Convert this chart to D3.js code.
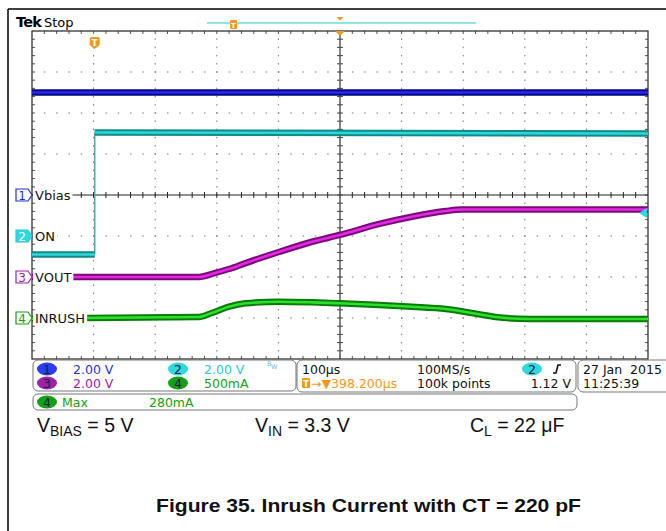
<!DOCTYPE html>
<html>
<head>
<meta charset="utf-8">
<script src="https://cdn.jsdelivr.net/npm/d3@7"></script>
<style>
body { margin: 0; background: #fff; }
svg { display: block; }
</style>
</head>
<body>
<div id="scope"></div>
<script>
// Trace data: [time in us from trigger, value in channel units]
var vbiasPts = [[-101.8, 5.0], [898.2, 5.0]];
var onPts = [[-101.8, -0.9], [0, -0.9], [0, 5.05], [898.2, 5.0]];
var voutPts = [[-101.8, 0], [169, 0], [196, 0.2], [218, 0.39], [245, 0.68], [299, 1.22], [353, 1.72],
    [398, 2.05], [462, 2.59], [515, 2.94], [570, 3.22], [596, 3.29], [898.2, 3.29]];
var inrushPts = [[-101.8, -5], [169, 12], [190, 61], [218, 138], [245, 179], [299, 199], [353, 191],
    [398, 179], [462, 159], [515, 138], [570, 110], [624, 45], [651, 12], [705, -12], [898.2, -12]];

// Channel settings
var chNames = ["Vbias", "ON", "VOUT", "INRUSH"];
var chPerDiv = [2, 2, 2, 500];          // units per division
var chOffset = [4, 3, 2, 1];            // ground position, divisions from bottom
var chScaleText = ["2.00 V", "2.00 V", "2.00 V", "500mA"];
var chDark = ["#06068a", "#0e8a8a", "#7a0a7a", "#0a7a0a"];
var chBright = ["#2a2ae0", "#2fd6d6", "#e22ae2", "#2ae02a"];
var chText = ["#1f2fe8", "#2cc9d6", "#a020a8", "#14a014"];
var chBadge = ["#2a3cff", "#2fd9e0", "#a020a8", "#14a014"];

// Horizontal / trigger settings
var timePerDiv = 100;                   // us per division
var horizPos = 398.2;                   // us at screen centre
var trigLevel = 1.12;                   // V on channel 2
var maxMeas = "280mA";

var W = 666, H = 531;
var gl = 32, gr = 648, gt = 31, gb = 359;

var svg = d3.select("#scope").append("svg").attr("width", W).attr("height", H)
    .style("font-family", "'DejaVu Sans', sans-serif");

var x = d3.scaleLinear().domain([horizPos - 5 * timePerDiv, horizPos + 5 * timePerDiv]).range([gl, gr]);
var xd = d3.scaleLinear().domain([0, 10]).range([gl, gr]);
var yd = d3.scaleLinear().domain([0, 8]).range([gb, gt]);

function yOf(ch, v) { return yd(chOffset[ch] + v / chPerDiv[ch]); }

// page frame
svg.append("line").attr("x1", 8).attr("y1", 9).attr("x2", W).attr("y2", 9).attr("stroke", "#000").attr("stroke-width", 1.5);
svg.append("line").attr("x1", 8).attr("y1", 9).attr("x2", 8).attr("y2", H).attr("stroke", "#000").attr("stroke-width", 1.5);

// graticule dots
var grid = svg.append("g");
var minorX = d3.range(1, 50), minorY = d3.range(1, 40);
[1, 2, 3, 4, 6, 7, 8, 9].forEach(function(i) {
    grid.selectAll(null).data(minorY).enter().append("rect")
        .attr("x", xd(i) - 0.5).attr("y", function(j) { return yd(j / 5) - 0.75; })
        .attr("width", 1).attr("height", 1.5).attr("fill", "#777");
});
[1, 2, 3, 5, 6, 7].forEach(function(k) {
    grid.selectAll(null).data(minorX).enter().append("rect")
        .attr("x", function(m) { return xd(m / 5) - 0.5; }).attr("y", yd(k) - 0.5)
        .attr("width", 1.5).attr("height", 1).attr("fill", "#777");
});
// border ticks
grid.selectAll(null).data(minorX).enter().append("path")
    .attr("d", function(m) { var p = xd(m / 5); return "M" + p + "," + gt + "v3M" + p + "," + gb + "v-3"; })
    .attr("stroke", "#555").attr("stroke-width", 1);
grid.selectAll(null).data(minorY).enter().append("path")
    .attr("d", function(j) { var p = yd(j / 5); return "M" + gl + "," + p + "h3M" + gr + "," + p + "h-3"; })
    .attr("stroke", "#555").attr("stroke-width", 1);
// centre lines with ticks
grid.append("line").attr("x1", gl).attr("x2", gr).attr("y1", yd(4)).attr("y2", yd(4)).attr("stroke", "#222").attr("stroke-width", 1);
grid.selectAll(null).data(minorX).enter().append("line")
    .attr("x1", function(m) { return xd(m / 5); }).attr("x2", function(m) { return xd(m / 5); })
    .attr("y1", yd(4) - 3).attr("y2", yd(4) + 3).attr("stroke", "#222");
grid.append("line").attr("x1", xd(5)).attr("x2", xd(5)).attr("y1", gt).attr("y2", gb).attr("stroke", "#666").attr("stroke-width", 1.6);
grid.selectAll(null).data(minorY).enter().append("line")
    .attr("x1", xd(5) - 3).attr("x2", xd(5) + 3)
    .attr("y1", function(j) { return yd(j / 5); }).attr("y2", function(j) { return yd(j / 5); })
    .attr("stroke", "#444");
grid.append("rect").attr("x", gl).attr("y", gt).attr("width", gr - gl).attr("height", gb - gt)
    .attr("fill", "none").attr("stroke", "#333").attr("stroke-width", 1.3);

// traces
svg.append("clipPath").attr("id", "clip").append("rect").attr("x", gl).attr("y", gt).attr("width", gr - gl).attr("height", gb - gt);
var traces = svg.append("g").attr("clip-path", "url(#clip)");

function drawTrace(ch, pts, curve) {
    var line = d3.line().x(function(d) { return x(d[0]); }).y(function(d) { return yOf(ch, d[1]); }).curve(curve);
    traces.append("path").attr("d", line(pts)).attr("fill", "none").attr("stroke", chDark[ch]).attr("stroke-width", 6.5);
    traces.append("path").attr("d", line(pts)).attr("fill", "none").attr("stroke", chBright[ch]).attr("stroke-width", 2.6);
}
drawTrace(0, vbiasPts, d3.curveLinear);
// ON: thin edge, thick levels
traces.append("line").attr("x1", x(onPts[1][0])).attr("x2", x(onPts[2][0]))
    .attr("y1", yOf(1, onPts[1][1])).attr("y2", yOf(1, onPts[2][1])).attr("stroke", "#5aa0a0").attr("stroke-width", 1.5);
drawTrace(1, onPts.slice(0, 2), d3.curveLinear);
drawTrace(1, onPts.slice(2), d3.curveLinear);
drawTrace(2, voutPts, d3.curveMonotoneX);
drawTrace(3, inrushPts, d3.curveMonotoneX);

// trace labels with white backing
var labels = svg.append("g");
chNames.forEach(function(name, i) {
    var yy = yd(chOffset[i]);
    var t = labels.append("text").attr("x", 35).attr("y", yy + 5).attr("font-size", 13).attr("fill", "#111").text(name);
    var w = t.node().getComputedTextLength();
    labels.insert("rect", "text").attr("x", gl + 1).attr("y", yy - 6).attr("width", w + 4).attr("height", 12).attr("fill", "#fff");
    // channel marker
    var g = svg.append("g");
    g.append("path").attr("d", "M16," + (yy - 6) + "H28L32," + yy + "L28," + (yy + 6) + "H16Z")
        .attr("fill", i == 1 ? chBadge[1] : "#fff").attr("stroke", chText[i]).attr("stroke-width", 1.2);
    g.append("text").attr("x", 22).attr("y", yy + 4.5).attr("text-anchor", "middle").attr("font-size", 12)
        .attr("fill", i == 1 ? "#fff" : chText[i]).text(i + 1);
});

// trigger level arrow (right edge)
var ty = yOf(1, trigLevel);
svg.append("path").attr("d", "M639," + ty + "L647," + (ty - 5) + "V" + (ty + 5) + "Z").attr("fill", "#35d4e4");

// trigger position marker
var tx = x(0);
svg.append("path").attr("d", "M" + (tx - 5) + ",39q0,-2 2,-2h6q2,0 2,2v6l-5,4l-5,-4z").attr("fill", "#f39a1c");
svg.append("text").attr("x", tx).attr("y", 46).attr("text-anchor", "middle").attr("font-size", 8.5).attr("font-weight", "bold").attr("fill", "#fff").text("T");
// horizontal position marker
svg.append("path").attr("d", "M" + (xd(5) - 5) + "," + gt + "h10l-5,5z").attr("fill", "#f39a1c");

// top status line
svg.append("text").attr("x", 16).attr("y", 27).attr("font-size", 14.5).attr("font-weight", "bold").attr("letter-spacing", -0.8).text("Tek");
svg.append("text").attr("x", 44).attr("y", 27).attr("font-size", 13).text("Stop");
svg.append("line").attr("x1", 207).attr("x2", 476).attr("y1", 23).attr("y2", 23).attr("stroke", "#8ee6ea").attr("stroke-width", 2);
svg.append("rect").attr("x", 230).attr("y", 20).attr("width", 7).attr("height", 9).attr("rx", 1).attr("fill", "#f39a1c");
svg.append("text").attr("x", 233.5).attr("y", 27.5).attr("text-anchor", "middle").attr("font-size", 7).attr("font-weight", "bold").attr("fill", "#fff").text("T");
svg.append("path").attr("d", "M" + (xd(5) - 3.5) + ",17h7l-3.5,3.5z").attr("fill", "#f39a1c");

// readout boxes
var ro = svg.append("g").style("font-family", "'DejaVu Sans', sans-serif").attr("font-size", 12.5);
function box(x0, y0, w, h) {
    ro.append("rect").attr("x", x0).attr("y", y0).attr("width", w).attr("height", h).attr("rx", 5)
        .attr("fill", "#fff").attr("stroke", "#777").attr("stroke-width", 1);
}
function badge(cx, cy, n, col) {
    ro.append("ellipse").attr("cx", cx).attr("cy", cy).attr("rx", 10).attr("ry", 6.5).attr("fill", col);
    ro.append("text").attr("x", cx).attr("y", cy + 4.5).attr("text-anchor", "middle").attr("fill", "#102040").text(n);
}
box(33, 360, 263, 31);
box(297, 360, 279, 32);
box(578, 360, 100, 32);
box(33, 394, 544, 16);

var rowY = [369, 383];
var badgeX = [47, 47 + 131];
[0, 1, 2, 3].forEach(function(i) {
    var bx = badgeX[i % 2 == 0 ? 0 : 1];
    var by = rowY[i < 2 ? 0 : 1];
    badge(bx, by, i + 1, chBadge[i]);
    ro.append("text").attr("x", bx + 26).attr("y", by + 4.5).attr("fill", chText[i]).text(chScaleText[i]);
});
ro.append("text").attr("x", 267).attr("y", 366).attr("font-size", 6.5).attr("fill", "#7ab8e0").text("B");
ro.append("text").attr("x", 271).attr("y", 369).attr("font-size", 6.5).attr("fill", "#7ab8e0").text("W");

ro.append("text").attr("x", 302).attr("y", rowY[0] + 4.5).attr("fill", "#111").text(timePerDiv + "\u00b5s");
ro.append("rect").attr("x", 302).attr("y", rowY[1] - 5).attr("width", 8).attr("height", 10).attr("rx", 1).attr("fill", "#f39a1c");
ro.append("text").attr("x", 306).attr("y", rowY[1] + 3.5).attr("text-anchor", "middle").attr("font-size", 8).attr("font-weight", "bold").attr("fill", "#fff").text("T");
ro.append("text").attr("x", 311).attr("y", rowY[1] + 4.5).attr("fill", "#f39a1c").text("\u2192\u25bc" + horizPos.toFixed(3) + "\u00b5s");
ro.append("text").attr("x", 417).attr("y", rowY[0] + 4.5).attr("fill", "#111").text("100MS/s");
ro.append("text").attr("x", 417).attr("y", rowY[1] + 4.5).attr("fill", "#111").text("100k points");
badge(532, rowY[0], 2, chBadge[1]);
ro.append("path").attr("d", "M553," + (rowY[0] + 4) + "h3l2,-8h3").attr("fill", "none").attr("stroke", "#111").attr("stroke-width", 1.6);
ro.append("text").attr("x", 571).attr("y", rowY[1] + 4.5).attr("text-anchor", "end").attr("fill", "#111").text(trigLevel.toFixed(2) + " V");
ro.append("text").attr("x", 583).attr("y", rowY[0] + 4.5).attr("fill", "#111").attr("xml:space", "preserve").text("27 Jan  2015");
ro.append("text").attr("x", 583).attr("y", rowY[1] + 4.5).attr("fill", "#111").text("11:25:39");

badge(47, 402, 4, chBadge[3]);
ro.append("text").attr("x", 62).attr("y", 406.5).attr("fill", chText[3]).text("Max");
ro.append("text").attr("x", 149).attr("y", 406.5).attr("fill", chText[3]).text(maxMeas);

// conditions and caption
var cap = svg.append("g").style("font-family", "'Liberation Sans', Arial, sans-serif").attr("fill", "#111");
function cond(x0, main, sub, rest) {
    var t = cap.append("text").attr("x", x0).attr("y", 432).attr("font-size", 19.5);
    t.append("tspan").text(main);
    t.append("tspan").attr("dy", 4).attr("font-size", 14).text(sub);
    t.append("tspan").attr("dy", -4).text(rest);
}
cond(37, "V", "BIAS", " = 5 V");
cond(255, "V", "IN", " = 3.3 V");
cond(470, "C", "L", " = 22 \u03bcF");
cap.append("text").attr("x", 156).attr("y", 512).attr("font-size", 18).attr("font-weight", "bold")
    .attr("textLength", 425).attr("lengthAdjust", "spacingAndGlyphs")
    .text("Figure 35. Inrush Current with CT = 220 pF");
</script>
</body>
</html>
